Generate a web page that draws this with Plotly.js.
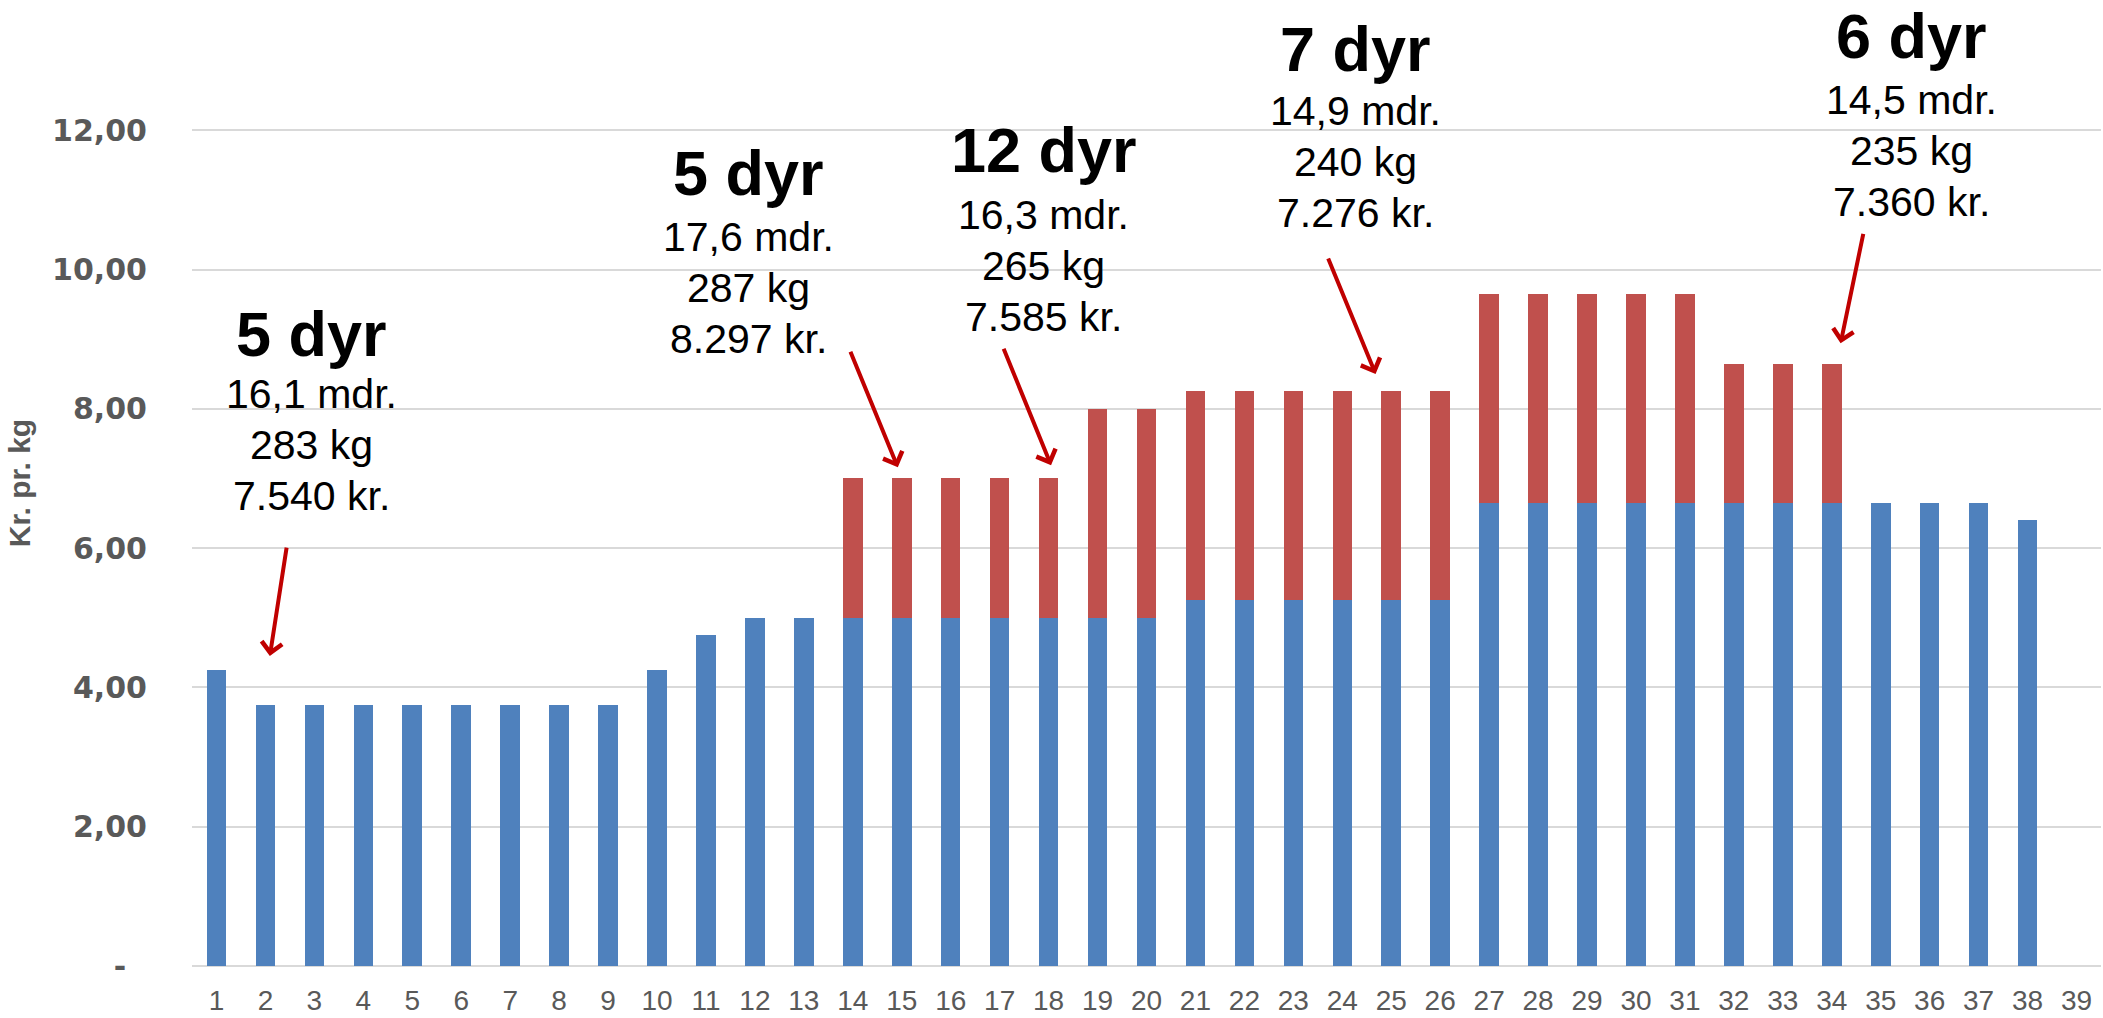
<!DOCTYPE html>
<html>
<head>
<meta charset="utf-8">
<script src="https://cdn.plot.ly/plotly-3.0.1.min.js"></script>
<style>
  html, body { margin: 0; padding: 0; background: #fff; }
  #chart { width: 2103px; height: 1018px; }
</style>
</head>
<body>
<div id="chart"></div>
<script>
  // slaughter number 1..39
  var categories = [1, 2, 3, 4, 5, 6, 7, 8, 9, 10, 11, 12, 13, 14, 15, 16, 17, 18, 19, 20,
    21, 22, 23, 24, 25, 26, 27, 28, 29, 30, 31, 32, 33, 34, 35, 36, 37, 38, 39];

  // base price (blue)
  var basePrice = [4.25, 3.75, 3.75, 3.75, 3.75, 3.75, 3.75, 3.75, 3.75, 4.25,
    4.75, 5.00, 5.00, 5.00, 5.00, 5.00, 5.00, 5.00, 5.00, 5.00,
    5.25, 5.25, 5.25, 5.25, 5.25, 5.25, 6.65, 6.65, 6.65, 6.65,
    6.65, 6.65, 6.65, 6.65, 6.65, 6.65, 6.65, 6.40, null];

  // supplement (red)
  var supplement = [null, null, null, null, null, null, null, null, null, null,
    null, null, null, 2.00, 2.00, 2.00, 2.00, 2.00, 3.00, 3.00,
    3.00, 3.00, 3.00, 3.00, 3.00, 3.00, 3.00, 3.00, 3.00, 3.00,
    3.00, 2.00, 2.00, 2.00, null, null, null, null, null];

  var yTickVals = [0, 2, 4, 6, 8, 10, 12];
  var yTickText = ['-\u00a0\u00a0', '2,00', '4,00', '6,00', '8,00', '10,00', '12,00'];

  // callout boxes
  var groupAnimals = ['5 dyr', '5 dyr', '12 dyr', '7 dyr', '6 dyr'];
  var groupAge = ['16,1 mdr.', '17,6 mdr.', '16,3 mdr.', '14,9 mdr.', '14,5 mdr.'];
  var groupWeight = ['283 kg', '287 kg', '265 kg', '240 kg', '235 kg'];
  var groupPrice = ['7.540 kr.', '8.297 kr.', '7.585 kr.', '7.276 kr.', '7.360 kr.'];

  // where the boxes sit and where the arrows point
  var boxX = [2.95, 11.87, 17.9, 24.27, 35.63];
  var titleY = [9.08, 11.39, 11.71, 13.17, 13.35];
  var bodyY = [8.21, 10.47, 10.79, 12.27, 12.44];
  var arrowX = [2.09, 14.92, 18.05, 24.68, 34.18];
  var arrowY = [4.45, 7.16, 7.19, 8.50, 8.94];
  var arrowAx = [17, -48, -48, -48, 23];
  var arrowAy = [-110, -117, -118, -117, -111];

  var blueColor = '#4F81BD';
  var redColor = '#C0504D';
  var arrowColor = '#C00000';
  var textFont = 'Liberation Sans, Arial, sans-serif';

  var data = [{
    x: categories,
    y: basePrice,
    type: 'bar',
    name: 'Grundpris',
    marker: { color: blueColor }
  }, {
    x: categories,
    y: supplement,
    type: 'bar',
    name: 'Tillæg',
    marker: { color: redColor }
  }];

  var annotations = [];
  for (var i = 0; i < groupAnimals.length; i++) {
    annotations.push({
      x: boxX[i], y: titleY[i], xref: 'x', yref: 'y',
      xanchor: 'center', yanchor: 'middle',
      showarrow: false,
      text: '<b>' + groupAnimals[i] + '</b>',
      font: { family: textFont, size: 63, color: '#000' }
    });
    var lines = [groupAge[i], groupWeight[i], groupPrice[i]];
    for (var k = 0; k < lines.length; k++) {
      annotations.push({
        x: boxX[i], y: bodyY[i], xref: 'x', yref: 'y',
        xanchor: 'center', yanchor: 'middle',
        yshift: -51 * k,
        showarrow: false,
        text: lines[k],
        font: { family: textFont, size: 41, color: '#000' }
      });
    }
    annotations.push({
      x: arrowX[i], y: arrowY[i], xref: 'x', yref: 'y',
      ax: arrowAx[i], ay: arrowAy[i],
      text: '',
      showarrow: true,
      arrowhead: 4,
      arrowsize: 1,
      arrowwidth: 4,
      arrowcolor: arrowColor
    });
  }

  var layout = {
    width: 2103,
    height: 1018,
    margin: { l: 192, r: 2, t: 0, b: 52 },
    paper_bgcolor: '#fff',
    plot_bgcolor: '#fff',
    barmode: 'stack',
    bargap: 0.6,
    showlegend: false,
    xaxis: {
      range: [0.5, 39.5],
      tickmode: 'linear',
      tick0: 1,
      dtick: 1,
      showgrid: false,
      zeroline: false,
      showline: false,
      ticks: '',
      ticklabelstandoff: 15,
      tickfont: { family: 'Liberation Sans Narrow, Arial Narrow, sans-serif', size: 28, color: '#595959' },
      fixedrange: true
    },
    yaxis: {
      range: [0, 13.87],
      tickmode: 'array',
      tickvals: yTickVals,
      ticktext: yTickText,
      showgrid: true,
      gridcolor: '#D9D9D9',
      gridwidth: 2,
      zeroline: true,
      zerolinecolor: '#D9D9D9',
      zerolinewidth: 2,
      showline: false,
      ticks: '',
      ticklabelstandoff: 44,
      tickfont: { family: 'DejaVu Sans, sans-serif', size: 30, color: '#595959', weight: 'bold' },
      title: {
        text: 'Kr. pr. kg',
        standoff: 12,
        font: { family: 'Liberation Sans Narrow, Arial Narrow, sans-serif', size: 30, color: '#595959', weight: 'bold' }
      },
      fixedrange: true
    },
    annotations: annotations
  };

  var config = { displayModeBar: false, staticPlot: true };

  Plotly.newPlot('chart', data, layout, config);
</script>
</body>
</html>
